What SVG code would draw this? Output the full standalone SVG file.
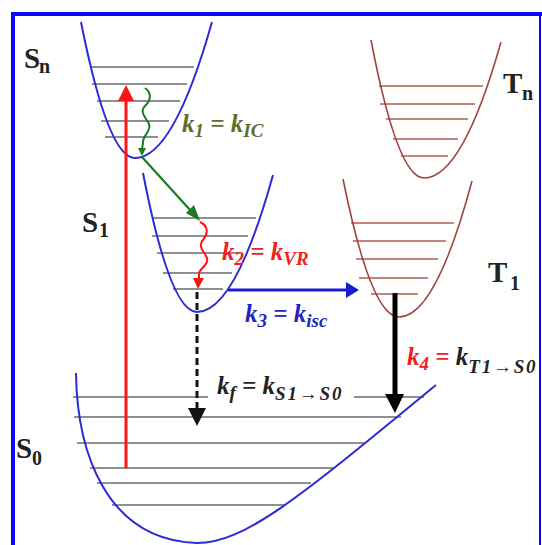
<svg xmlns="http://www.w3.org/2000/svg" width="542" height="545" viewBox="0 0 542 545">
<style>
.frame{stroke:#0a0aff;fill:none}
.pb{fill:none;stroke:#2b2bd6;stroke-width:2}
.pr{fill:none;stroke:#a3423f;stroke-width:1.6}
.lv{stroke:#6a6a6a;stroke-width:1.7}
.lr{stroke:#b45a58;stroke-width:1.6}
.st{font-family:"Liberation Serif",serif;font-weight:bold;fill:#222}
.kt{font-family:"Liberation Serif",serif;font-weight:bold;font-style:italic;font-size:25px}
.sub{font-size:19px}
.wide{letter-spacing:1.8px}
</style>
<rect width="542" height="545" fill="#ffffff"/>
<g id="frame">
<line class="frame" x1="11" y1="14" x2="542" y2="14" stroke-width="4"/>
<line class="frame" x1="13" y1="12" x2="13" y2="545" stroke-width="4"/>
<line class="frame" x1="540" y1="12" x2="540" y2="545" stroke-width="2"/>
</g>
<g id="Sn">
<line class="lv" x1="90" y1="67" x2="194" y2="67"/>
<line class="lv" x1="92" y1="84" x2="187" y2="84"/>
<line class="lv" x1="97" y1="101" x2="180" y2="101"/>
<line class="lv" x1="101" y1="121" x2="169" y2="121"/>
<line class="lv" x1="105" y1="137" x2="158" y2="137"/>
<path class="pb" d="M81,22 Q108,158 135,158 Q173.5,158 212,22"/>
<text class="st" x="24" y="68" font-size="29">S<tspan x="39" y="73" font-size="20">n</tspan></text>
</g>
<g id="S1">
<line class="lv" x1="152" y1="218" x2="256" y2="218"/>
<line class="lv" x1="152" y1="236" x2="248" y2="236"/>
<line class="lv" x1="157" y1="253" x2="240" y2="253"/>
<line class="lv" x1="163" y1="273" x2="232" y2="273"/>
<line class="lv" x1="173" y1="289" x2="223" y2="289"/>
<path class="pb" d="M143,173 Q170,312 197,312 Q235,312 273,175"/>
<text class="st" x="82" y="232" font-size="29">S<tspan x="99" y="237" font-size="20">1</tspan></text>
</g>
<g id="Tn">
<line class="lr" x1="379" y1="86" x2="483" y2="86"/>
<line class="lr" x1="380" y1="104" x2="475" y2="104"/>
<line class="lr" x1="386" y1="119" x2="468" y2="119"/>
<line class="lr" x1="393" y1="139" x2="458" y2="139"/>
<line class="lr" x1="401" y1="156" x2="448" y2="156"/>
<path class="pr" d="M371,40 Q397.5,178 424,178 Q462.5,178 501,42"/>
<text class="st" x="503" y="93" font-size="29">T<tspan x="522" y="100" font-size="20">n</tspan></text>
</g>
<g id="T1">
<line class="lr" x1="351" y1="223" x2="454" y2="223"/>
<line class="lr" x1="353" y1="241" x2="446" y2="241"/>
<line class="lr" x1="356" y1="259" x2="438" y2="259"/>
<line class="lr" x1="359" y1="278" x2="428" y2="278"/>
<line class="lr" x1="371" y1="294" x2="418" y2="294"/>
<path class="pr" d="M343,179 Q371,317 399,317 Q435.5,317 472,181"/>
<text class="st" x="488" y="282" font-size="29">T<tspan x="510" y="290" font-size="20">1</tspan></text>
</g>
<g id="S0">
<line class="lv" x1="73" y1="397" x2="208" y2="397"/>
<line class="lv" x1="354" y1="397" x2="424" y2="397"/>
<line class="lv" x1="74" y1="417" x2="401" y2="417"/>
<line class="lv" x1="77" y1="443" x2="364" y2="443"/>
<line class="lv" x1="90" y1="468" x2="334" y2="468"/>
<line class="lv" x1="97" y1="483" x2="311" y2="483"/>
<line class="lv" x1="112" y1="505" x2="284" y2="505"/>
<path class="pb" d="M76,373 C77,450 105,540 197,543 C245,543 300,497 436,385"/>
<text class="st" x="16" y="458" font-size="29">S<tspan x="32" y="465" font-size="20">0</tspan></text>
</g>
<g id="connectors">
<line x1="126" y1="468" x2="126" y2="98" stroke="#ff1414" stroke-width="3"/>
<polygon points="126,85 118,101 134,101" fill="#ff1414"/>
<path d="M145,88 C152,93 151,100 145,106 C139,112 146,118 149,124 C152,131 142,136 143,143 L142,149" fill="none" stroke="#1e7b1e" stroke-width="2"/>
<polygon points="142,156 138,148 146,148" fill="#1e7b1e"/>
<line x1="142" y1="157" x2="191" y2="211" stroke="#1e7b1e" stroke-width="2.2"/>
<polygon points="200,221 186,213 194,205" fill="#1e7b1e"/>
<path d="M200,222 C209,226 208,234 203,240 C197,247 205,252 207,258 C209,266 199,268 199,274 L199,279" fill="none" stroke="#ff1414" stroke-width="2"/>
<polygon points="198,289 193,278 204,278" fill="#ff1414"/>
<line x1="197" y1="292" x2="197" y2="410" stroke="#111" stroke-width="3" stroke-dasharray="7,4"/>
<polygon points="197,426 188,408 206,408" fill="#111"/>
<line x1="228" y1="290" x2="349" y2="290" stroke="#1a1ad0" stroke-width="3"/>
<polygon points="359,290 346,282 346,298" fill="#1a1ad0"/>
<line x1="395" y1="293" x2="395" y2="396" stroke="#000" stroke-width="5"/>
<polygon points="395,413 385,394 404,394" fill="#000"/>
</g>
<g id="labels">
<text class="kt" x="182" y="132" fill="#5e6e2e">k<tspan class="sub" dy="5">1</tspan><tspan dy="-5"> = k</tspan><tspan class="sub" dy="5">IC</tspan></text>
<text class="kt" x="222" y="260" fill="#ee2222">k<tspan class="sub" dy="5">2</tspan><tspan dy="-5"> = k</tspan><tspan class="sub" dy="5">VR</tspan></text>
<text class="kt" x="245" y="322" fill="#2323c0">k<tspan class="sub" dy="5">3</tspan><tspan dy="-5"> = k</tspan><tspan class="sub" dy="5">isc</tspan></text>
<text class="kt" x="217" y="394" fill="#222">k<tspan class="sub" dy="5">f</tspan><tspan dy="-5"> = k</tspan><tspan class="sub wide" dy="6">S1→S0</tspan></text>
<text class="kt" x="407" y="365"><tspan fill="#ee2222">k</tspan><tspan class="sub" dy="5" fill="#ee2222">4</tspan><tspan dy="-5" fill="#ee2222"> = </tspan><tspan fill="#222">k</tspan><tspan class="sub wide" dy="8" fill="#222">T1→S0</tspan></text>
</g>
</svg>
